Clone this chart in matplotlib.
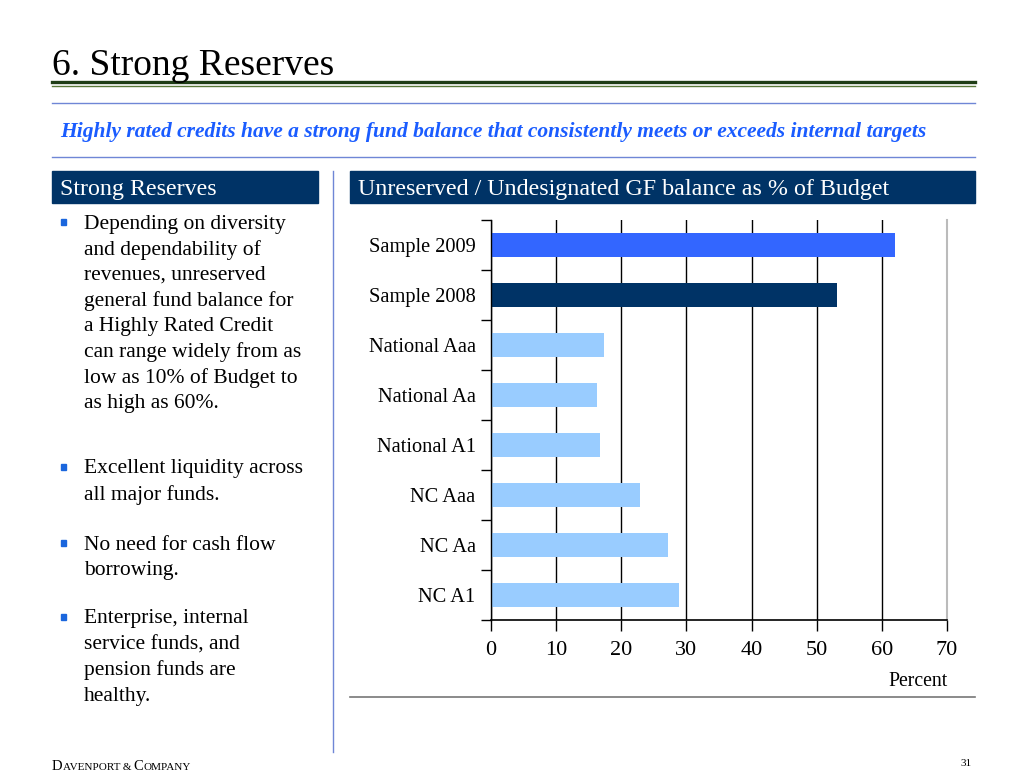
# Strong Reserves slide - fund balance bar chart
import matplotlib
matplotlib.use("Agg")
import matplotlib.pyplot as plt
from matplotlib.patches import Rectangle
from matplotlib.lines import Line2D
import numpy as np

plt.rcParams['font.family'] = ['Liberation Serif', 'DejaVu Serif']

# data
categorias = ["Sample 2009", "Sample 2008", "National Aaa", "National Aa",
              "National A1", "NC Aaa", "NC Aa", "NC A1"]
valores = [62.0, 53.1, 17.4, 16.2, 16.7, 22.8, 27.2, 28.9]
cores = ["#3366ff", "#003366", "#99ccff", "#99ccff",
         "#99ccff", "#99ccff", "#99ccff", "#99ccff"]
xticks = [0, 10, 20, 30, 40, 50, 60, 70]

titulo = "6. Strong Reserves"
subtitulo = ("Highly rated credits have a strong fund balance that "
             "consistently meets or exceeds internal targets")
bullets = [
    ["Depending on diversity", "and dependability of", "revenues, unreserved",
     "general fund balance for", "a Highly Rated Credit",
     "can range widely from as", "low as 10% of Budget to", "as high as 60%."],
    ["Excellent liquidity across", "all major funds."],
    ["No need for cash flow", "borrowing."],
    ["Enterprise, internal", "service funds, and", "pension funds are",
     "healthy."],
]
bullet_y = [222, 467, 543, 617]  # first line of each bullet (pixels from top)

W, H = 1023, 780
fig = plt.figure(figsize=(W / 100, H / 100), dpi=100)
renderer = fig.canvas.get_renderer()


def fx(x):
    return x / W


def fy(y):
    return 1 - y / H


def hline(x0, x1, y, color, lw):
    fig.add_artist(Line2D([fx(x0), fx(x1)], [fy(y), fy(y)],
                          transform=fig.transFigure, color=color, lw=lw))


# title and rules
fig.text(fx(52), fy(75), titulo, fontsize=27, va='baseline', ha='left')
hline(52, 975, 82, "#1f3d16", 2.4)
hline(52, 975, 85.5, "#5a7a3a", 1.0)
hline(52, 975, 103, "#6f86d6", 1.0)
hline(52, 975, 157, "#6f86d6", 1.0)
fig.text(fx(60), fy(132), subtitulo, fontsize=15.5, style='italic',
         weight='bold', color="#1a5cff", va='center', ha='left')

# header boxes
for x0, x1, txt in [(52, 318, "Strong Reserves"),
                    (350, 975, "Unreserved / Undesignated GF balance as % of Budget")]:
    fig.add_artist(Rectangle((fx(x0), fy(203)), fx(x1 - x0), (203 - 171) / H,
                             transform=fig.transFigure, color="#003366"))
    fig.text(fx(x0 + 8), fy(190), txt, fontsize=17.3, color="white",
             va='center', ha='left')

# vertical divider
fig.add_artist(Line2D([fx(333), fx(333)], [fy(171), fy(752)],
                      transform=fig.transFigure, color="#6f86d6", lw=1.0))

# bullets
passo = 25.7
for y0, linhas in zip(bullet_y, bullets):
    fig.add_artist(Rectangle((fx(60.5), fy(y0 + 2.5)), fx(5.5), 5.5 / H,
                             transform=fig.transFigure, color="#1a66dd"))
    for k, linha in enumerate(linhas):
        fig.text(fx(84), fy(y0 + 2 + k * passo), linha, fontsize=15.5,
                 va='center', ha='left')

# chart
ax = fig.add_axes([fx(491), fy(620), fx(947 - 491), (620 - 220) / H])
y = np.arange(len(categorias))
ax.barh(y, valores, height=0.48, color=cores, zorder=2)
ax.set_ylim(len(categorias) - 0.5, -0.5)
ax.set_xlim(0, 70)
ax.set_xticks(xticks)
ax.set_yticks(y)
ax.set_yticklabels(categorias)
ax.set_yticks(np.arange(-0.5, len(categorias) + 0.5, 1), minor=True)
ax.tick_params(axis='y', which='major', length=0, pad=11, labelsize=14.7)
ax.tick_params(axis='y', which='minor', length=7, direction='out', width=1)
ax.tick_params(axis='x', which='major', length=8, direction='out', width=1,
               pad=7, labelsize=16)
ax.grid(axis='x', color='black', lw=1.0, zorder=1)
ax.spines['top'].set_visible(False)
ax.spines['right'].set_color("#bbbbbb")
ax.spines['right'].set_linewidth(1.5)
ax.spines['left'].set_linewidth(1.0)
ax.spines['bottom'].set_linewidth(1.2)

fig.text(fx(948), fy(682), "Percent", fontsize=14.2, va='center', ha='right')
hline(350, 975, 697, "#777777", 1.2)

# footer in small caps
xpos = 52
for parte, tam in [("D", 10.5), ("AVENPORT & ", 8), ("C", 10.5), ("OMPANY", 8)]:
    t = fig.text(fx(xpos), fy(770), parte, fontsize=tam, va='baseline', ha='left')
    xpos += t.get_window_extent(renderer).width
fig.text(fx(972), fy(763), "31", fontsize=8, va='center', ha='right')

fig.savefig("out.png", dpi=100)
